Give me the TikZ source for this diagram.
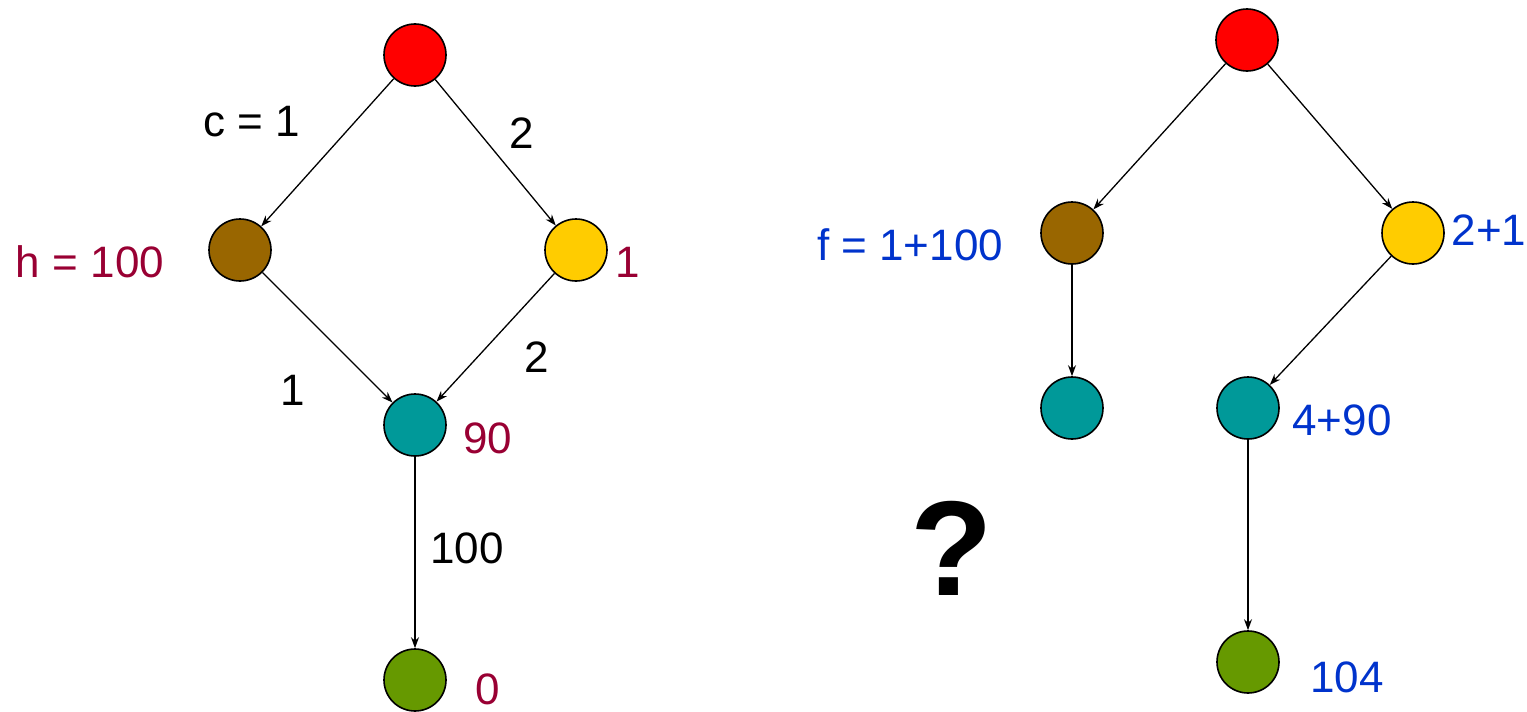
\documentclass[tikz,border=0pt]{standalone}
\usepackage{fontspec}
\setmainfont{Liberation Sans}
\usetikzlibrary{arrows.meta}
\definecolor{cred}{HTML}{FF0000}
\definecolor{cbrown}{HTML}{996600}
\definecolor{cyellow}{HTML}{FFCC00}
\definecolor{cteal}{HTML}{009999}
\definecolor{cgreen}{HTML}{669900}
\definecolor{cmaroon}{HTML}{990033}
\definecolor{cblue}{HTML}{0033CC}
\begin{document}
\begin{tikzpicture}[x=1pt,y=-1pt,
  vert/.style={circle,draw=black,line width=1.6pt,minimum size=62pt,inner sep=0pt},
  edge/.style={line width=1.3pt,-{Stealth[length=11pt,width=8pt]}},
  lab/.style={font=\fontsize{44}{50}\selectfont,inner sep=0pt},
  hlab/.style={lab,text=cmaroon},
  flab/.style={lab,text=cblue}]
\useasboundingbox (0,0) rectangle (1527,712);
% left tree
\node[vert,fill=cred] (a) at (415,55) {};
\node[vert,fill=cbrown] (b) at (240,250) {};
\node[vert,fill=cyellow] (c) at (576,250) {};
\node[vert,fill=cteal] (d) at (415,425) {};
\node[vert,fill=cgreen] (e) at (415,680) {};
\draw[edge] (a) -- (b);
\draw[edge] (a) -- (c);
\draw[edge] (b) -- (d);
\draw[edge] (c) -- (d);
\draw[edge] (d) -- (e);
\node[lab] (l1) at (252,122) {c = 1};
\node[lab] (l2) at (522,133) {2};
\node[lab] (l3) at (293,390) {1};
\node[lab] (l4) at (537,357) {2};
\node[lab] (l5) at (467,548) {100};
\node[hlab] (h1) at (90,262) {h = 100};
\node[hlab] (h2) at (628,262) {1};
\node[hlab] (h3) at (488,438) {90};
\node[hlab] (h4) at (488,689) {0};
% right tree
\node[vert,fill=cred] (A) at (1247,40) {};
\node[vert,fill=cbrown] (B) at (1072,233) {};
\node[vert,fill=cyellow] (C) at (1413,233) {};
\node[vert,fill=cteal] (D) at (1072,408) {};
\node[vert,fill=cteal] (E) at (1248,408) {};
\node[vert,fill=cgreen] (F) at (1248,662) {};
\draw[edge] (A) -- (B);
\draw[edge] (A) -- (C);
\draw[edge] (B) -- (D);
\draw[edge] (C) -- (E);
\draw[edge] (E) -- (F);
\node[flab] (f1) at (910,245) {f = 1+100};
\node[flab] (f2) at (1489,230) {2+1};
\node[flab] (f3) at (1342,420) {4+90};
\node[flab] (f4) at (1347,677) {104};
\node[inner sep=0pt,font=\fontsize{135}{145}\selectfont\bfseries] (q) at (952,548) {?};
\end{tikzpicture}
\end{document}
